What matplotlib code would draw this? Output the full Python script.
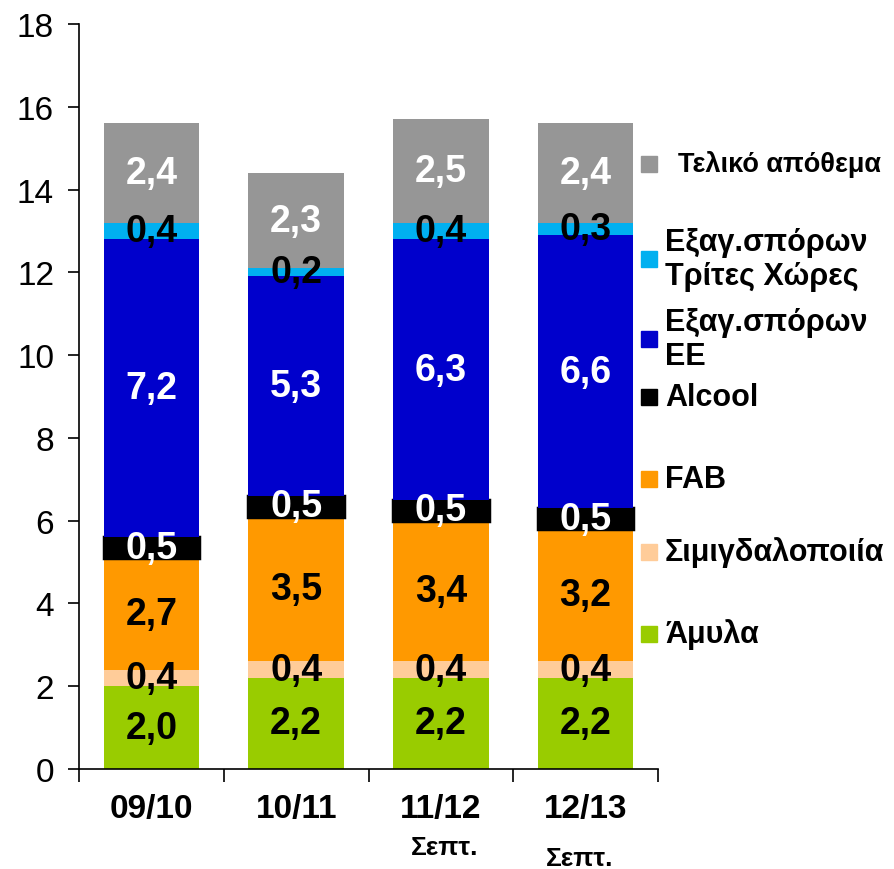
import matplotlib.pyplot as plt
from matplotlib.patches import Rectangle
import numpy as np

plt.rcParams['font.family'] = ['Liberation Sans', 'DejaVu Sans']

years = ['09/10', '10/11', '11/12', '12/13']
notes = ['', '', 'Σεπτ.', 'Σεπτ.']

# stacked from the bottom up
amyla = [2.0, 2.2, 2.2, 2.2]
simigd = [0.4, 0.4, 0.4, 0.4]
fab = [2.7, 3.5, 3.4, 3.2]
alcool = [0.5, 0.5, 0.5, 0.5]
exag_ee = [7.2, 5.3, 6.3, 6.6]
exag_tx = [0.4, 0.2, 0.4, 0.3]
apothema = [2.4, 2.3, 2.5, 2.4]

series = [amyla, simigd, fab, alcool, exag_ee, exag_tx, apothema]
names = ['Άμυλα', 'Σιμιγδαλοποιία', 'FAB', 'Alcool',
         'Εξαγ.σπόρων\nΕΕ', 'Εξαγ.σπόρων\nΤρίτες Χώρες', 'Τελικό απόθεμα']
colors = ['#99CC00', '#FFCC99', '#FF9900', '#000000', '#0000CC', '#00B0F0', '#969696']
txt_colors = ['black', 'black', 'black', 'white', 'white', 'black', 'white']

fig = plt.figure(figsize=(8.94, 8.7), dpi=100)
ax = fig.add_axes([79/894, 1 - 770/870, (658 - 79)/894, (770 - 25)/870])

x = np.arange(len(years))
bottom = np.zeros(len(years))
for vals, col, tc in zip(series, colors, txt_colors):
    vals = np.array(vals)
    if col == '#000000':
        ax.bar(x, vals, 0.66, bottom=bottom, color=col, edgecolor=col, linewidth=2.5)
    else:
        ax.bar(x, vals, 0.66, bottom=bottom, color=col, linewidth=0)
    for xi, b, v in zip(x, bottom, vals):
        ax.text(xi, b + v / 2, f'{v:.1f}'.replace('.', ','), ha='center', va='center',
                fontsize=27, fontweight='bold', color=tc)
    bottom += vals

ax.set_xlim(-0.5, len(years) - 0.5)
ax.set_ylim(0, 18)
ax.set_yticks(range(0, 19, 2))
ax.tick_params(axis='y', labelsize=24, length=8, width=1.2, pad=10)
ax.set_xticks(x)
ax.set_xticklabels(years, fontsize=24, fontweight='bold')
ax.tick_params(axis='x', length=0, pad=17)
ax.set_xticks(np.arange(-0.5, len(years)), minor=True)
ax.tick_params(axis='x', which='minor', length=9, width=1.2)
for s in ['top', 'right']:
    ax.spines[s].set_visible(False)
for s in ['left', 'bottom']:
    ax.spines[s].set_linewidth(1.2)

# small notes under the last two seasons
offsets = [(0, 0), (0, 0), (3, -56), (-4, -64)]
for xi, n, off in zip(x, notes, offsets):
    if n:
        ax.annotate(n, (xi, 0), xytext=off, textcoords='offset points',
                    ha='center', va='center', fontsize=19, fontweight='bold')

# legend, top to bottom
leg_y = [165, 260, 340, 398, 480, 553, 635]
for i, yy in enumerate(leg_y):
    k = len(series) - 1 - i
    fig.patches.append(Rectangle((641/894, 1 - (yy + 8)/870), 16/894, 16/870,
                                 transform=fig.transFigure, color=colors[k]))
    first = k == len(series) - 1
    fig.text((678 if first else 665)/894, 1 - yy/870, names[k],
             fontsize=19.5 if first else 22, fontweight='bold',
             va='center', ha='left', linespacing=1.15)

fig.savefig('out.png', dpi=100)
